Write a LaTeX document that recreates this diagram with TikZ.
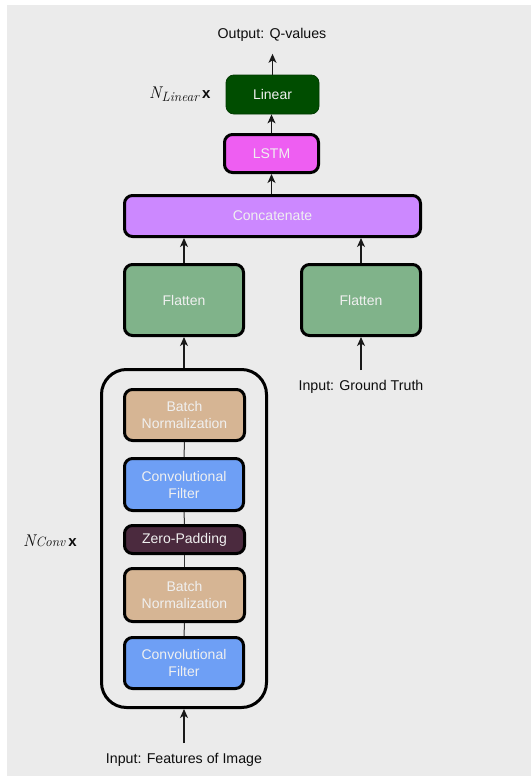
\documentclass[tikz,border=0pt]{standalone}
\usepackage{fontspec}
\setmainfont{Liberation Sans}
\newfontfamily\mathlike{Latin Modern Roman}
\usetikzlibrary{arrows.meta}

\definecolor{bgcol}{HTML}{EBEBEB}
\definecolor{boxtext}{HTML}{F0F0F0}
\definecolor{lincol}{HTML}{004D00}
\definecolor{linedge}{HTML}{003A00}
\definecolor{lstmcol}{HTML}{EE5EF2}
\definecolor{catcol}{HTML}{CC88FF}
\definecolor{flatcol}{HTML}{80B38A}
\definecolor{bncol}{HTML}{D6B594}
\definecolor{convcol}{HTML}{6E9FF5}
\definecolor{zpcol}{HTML}{4B2A3E}

\tikzset{
  layer/.style={draw=black, line width=3pt, rounded corners=8pt,
    text=boxtext, align=center, inner sep=0pt,
    font=\fontsize{14}{17}\selectfont},
  label/.style={font=\fontsize{14.2}{17}\selectfont, text=black!95, inner sep=0pt},
  arr/.style={-{Stealth[length=9pt,width=8pt,inset=2.5pt]}, line width=1.1pt, black!90},
  link/.style={line width=1pt, black!80}
}

\begin{document}
\begin{tikzpicture}[x=1pt,y=1pt]
  % canvas
  \useasboundingbox (0,0) rectangle (531,-776);
  \fill[white] (0,0) rectangle (531,-776);
  \fill[bgcol] (7,-5) rectangle (531,-776);

  % head of the network
  \node[label] (out) at (272,-35) {Output: Q-values};
  \node[layer, draw=linedge, line width=0.8pt, fill=lincol,
        minimum width=93pt, minimum height=39pt] (lin) at (272.5,-94.5) {Linear};
  \node[layer, fill=lstmcol, minimum width=94pt, minimum height=38pt] (lstm) at (271.5,-153.5) {LSTM};
  \node[layer, fill=catcol, minimum width=296pt, minimum height=41pt] (cat) at (272.5,-216) {Concatenate};

  % two flatten branches
  \node[layer, fill=flatcol, minimum width=119pt, minimum height=71pt] (fla) at (184,-300) {Flatten};
  \node[layer, fill=flatcol, minimum width=119pt, minimum height=71pt] (flb) at (361,-300) {Flatten};
  \node[label] (gt) at (361,-387) {Input: Ground Truth};

  % repeated convolutional block
  \node[draw=black, line width=3pt, rounded corners=25pt,
        minimum width=165pt, minimum height=338pt, inner sep=0pt] (cont) at (184,-538.5) {};
  \node[layer, fill=bncol, minimum width=120pt, minimum height=51pt] (bna) at (184.5,-415) {Batch\\Normalization};
  \node[layer, fill=convcol, minimum width=119pt, minimum height=52pt] (cva) at (184,-484.5) {Convolutional\\Filter};
  \node[layer, fill=zpcol, minimum width=120pt, minimum height=28pt] (zp) at (184.5,-539.5) {Zero-Padding};
  \node[layer, fill=bncol, minimum width=120pt, minimum height=53pt] (bnb) at (184.5,-595) {Batch\\Normalization};
  \node[layer, fill=convcol, minimum width=119pt, minimum height=51pt] (cvb) at (184,-663) {Convolutional\\Filter};
  \node[label] (img) at (184,-760) {Input: Features of Image};

  % repetition labels
  \node[label, anchor=west] (nlin) at (149,-94)
    {{\mathlike\itshape\fontsize{17}{18}\selectfont N}\raisebox{-3pt}{\mathlike\itshape\fontsize{13.5}{14}\selectfont Linear}\kern3pt{\bfseries\fontsize{15}{17}\selectfont x}};
  \node[label, anchor=west] (nconv) at (23,-541)
    {{\mathlike\itshape\fontsize{17}{18}\selectfont N}{\mathlike\itshape\fontsize{13.5}{14}\selectfont Conv}\kern3pt{\bfseries\fontsize{15}{17}\selectfont x}};

  % links inside the block
  \draw[link] (bna.south) -- (cva.north);
  \draw[link] (cva.south) -- (zp.north);
  \draw[link] (zp.south) -- (bnb.north);
  \draw[link] (bnb.south) -- (cvb.north);

  % data flow
  \draw[arr, shorten <=10pt] (img.north) -- (cont.south);
  \draw[arr] (cont.north) -- (fla.south);
  \draw[arr, shorten <=10pt] (gt.north) -- (flb.south);
  \draw[arr] (fla.north) -- (fla.north |- cat.south);
  \draw[arr] (flb.north) -- (flb.north |- cat.south);
  \draw[arr] (cat.north -| lstm.south) -- (lstm.south);
  \draw[arr] (lstm.north) -- (lin.south -| lstm.north);
  \draw[arr, shorten >=12pt] (lin.north) -- (out.south -| lin.north);
\end{tikzpicture}
\end{document}
